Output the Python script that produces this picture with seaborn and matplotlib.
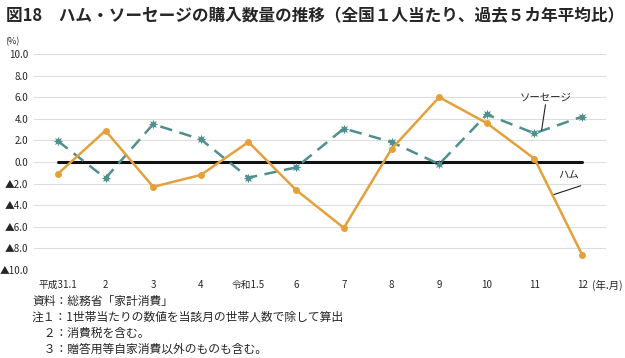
import pandas as pd
import matplotlib
matplotlib.use("Agg")
import matplotlib.pyplot as plt
import seaborn as sns

months = list(range(1, 13))
month_labels = ["平成31.1", "2", "3", "4", "令和1.5", "6", "7", "8", "9", "10", "11", "12"]
ham = [-1.1, 2.9, -2.3, -1.2, 1.85, -2.6, -6.1, 1.2, 6.0, 3.6, 0.3, -8.6]
sausage = [1.95, -1.5, 3.5, 2.1, -1.45, -0.5, 3.1, 1.85, -0.2, 4.4, 2.65, 4.2]
yticks = [-10, -8, -6, -4, -2, 0, 2, 4, 6, 8, 10]

df = pd.DataFrame({
    "month": months * 2,
    "value": ham + sausage,
    "item": ["ハム"] * 12 + ["ソーセージ"] * 12,
})

sns.set_theme(style="white")
plt.rcParams["font.family"] = ["Noto Sans CJK JP", "DejaVu Sans"]

fig = plt.figure(figsize=(6.25, 3.58), dpi=100)
ax = fig.add_axes([34 / 625, 1 - 270 / 358, (606 - 34) / 625, (270 - 54) / 358])

for y in yticks:
    ax.axhline(y, color="#dddddd", lw=0.8, zorder=0)
ax.plot([1, 12], [0, 0], color="#111111", lw=2.2, zorder=1)

colors = {"ハム": "#E4A03A", "ソーセージ": "#4F8F8D"}
sns.lineplot(data=df[df["item"] == "ハム"], x="month", y="value", color=colors["ハム"],
             marker="o", markersize=5, markeredgewidth=0, lw=1.8, ax=ax, zorder=3)
sns.lineplot(data=df[df["item"] == "ソーセージ"], x="month", y="value", color=colors["ソーセージ"],
             marker=(8, 1, 0), markersize=7, markeredgewidth=0, lw=1.8, ax=ax, zorder=2)
ax.lines[-1].set_dashes([5, 3])

ax.set_xlim(0.5, 12.5)
ax.set_ylim(-10, 10)
ax.set_xticks(months)
ax.set_xticklabels(month_labels, fontsize=7)
ax.set_yticks(yticks)
ax.set_yticklabels([("▲%.1f" % -v) if v < 0 else "%.1f" % v for v in yticks], fontsize=7)
ax.tick_params(axis="y", length=0, pad=4)
ax.tick_params(axis="x", length=0, pad=7)
for s in ax.spines.values():
    s.set_visible(False)
ax.set_xlabel("")
ax.set_ylabel("")

ax.text(12.2, -11.45, "(年.月)", fontsize=7.5, va="center", ha="left", clip_on=False)

# labels with leader lines
ax.text(11.23, 6.0, "ソーセージ", fontsize=7.5, ha="center", va="center")
ax.plot([11.23, 11.15], [5.3, 2.95], color="#222222", lw=0.8)
ax.text(11.71, -1.3, "ハム", fontsize=7.5, ha="center", va="center")
ax.plot([11.38, 11.97], [-3.05, -2.2], color="#222222", lw=0.8)

fig.text(6 / 625, 1 - 16 / 358, "図18　ハム・ソーセージの購入数量の推移（全国１人当たり、過去５カ年平均比）",
         fontsize=12, fontweight="bold", va="center")
fig.text(5 / 625, 1 - 42 / 358, "(%)", fontsize=6.5, va="center")

notes = ["資料：総務省「家計消費」",
         "注１：1世帯当たりの数値を当該月の世帯人数で除して算出",
         "　２：消費税を含む。",
         "　３：贈答用等自家消費以外のものも含む。"]
for i, t in enumerate(notes):
    fig.text(32 / 625, 1 - (301 + i * 16.2) / 358, t, fontsize=8.5, va="center")

fig.savefig("out.png", dpi=100)
